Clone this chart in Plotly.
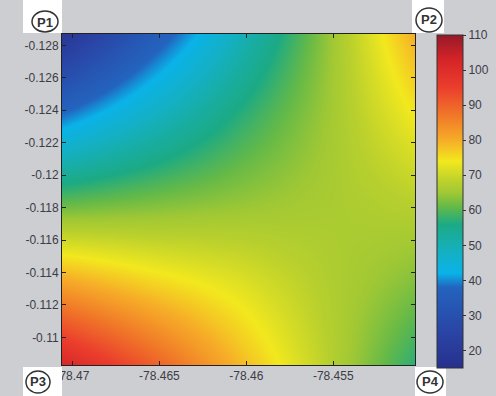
import plotly.graph_objects as go

# grid coordinates (longitude, latitude) of read-off samples
lon = [-78.4706, -78.46553, -78.46045, -78.45538, -78.4503]
lat = [-0.1287, -0.1236, -0.1185, -0.1134, -0.1083]

# values (rows top -> bottom, cols left -> right)
z = [
    [18, 34, 49, 64, 80],
    [39, 48, 57, 65, 74],
    [60, 62, 64, 66, 68],
    [81, 76, 72, 67, 63],
    [102, 91, 79, 68, 57],
]

x_ticks = [-78.47, -78.465, -78.46, -78.455]
x_text = ["-78.47", "-78.465", "-78.46", "-78.455"]
y_ticks = [-0.128, -0.126, -0.124, -0.122, -0.12, -0.118, -0.116, -0.114, -0.112, -0.11]
y_text = ["-0.128", "-0.126", "-0.124", "-0.122", "-0.12", "-0.118", "-0.116", "-0.114", "-0.112", "-0.11"]
cb_ticks = [20, 30, 40, 50, 60, 70, 80, 90, 100, 110]
corner_labels = ["P1", "P2", "P3", "P4"]

zmin, zmax = 15, 110

def n(v):
    return (v - zmin) / (zmax - zmin)

colorscale = [
    [n(15), "rgb(40,48,140)"],
    [n(25), "rgb(42,68,165)"],
    [n(38), "rgb(35,100,190)"],
    [n(42), "rgb(10,178,232)"],
    [n(48), "rgb(20,176,195)"],
    [n(56), "rgb(28,170,132)"],
    [n(61), "rgb(100,185,72)"],
    [n(65), "rgb(160,200,52)"],
    [n(68), "rgb(185,208,45)"],
    [n(74), "rgb(242,232,30)"],
    [n(80), "rgb(246,172,40)"],
    [n(87), "rgb(240,120,40)"],
    [n(95), "rgb(235,62,45)"],
    [n(103), "rgb(212,36,40)"],
    [n(110), "rgb(150,25,40)"],
]

W, H = 496, 396
L, R, T, B = 62, 81, 34, 31
pw, ph = W - L - R, H - T - B

def px(x):
    return (x - L) / pw

def py(y):
    return 1 - (y - T) / ph

fig = go.Figure(go.Heatmap(
    x=lon, y=lat, z=z, zsmooth="best",
    zmin=zmin, zmax=zmax, colorscale=colorscale,
    colorbar=dict(
        x=px(437), xanchor="left", xref="paper", xpad=0, ypad=0,
        y=py(201.5), yanchor="middle", yref="paper",
        len=333 / ph, lenmode="fraction",
        thickness=26, thicknessmode="pixels",
        outlinewidth=1, outlinecolor="#333",
        tickvals=cb_ticks, ticks="outside", ticklen=3,
        tickcolor="#333",
        tickfont=dict(family="Liberation Sans", size=12, color="#3c3c46"),
    ),
    hoverinfo="skip",
))

axis_common = dict(
    showgrid=False, zeroline=False, showline=True, linecolor="#222",
    linewidth=1, mirror="ticks", ticks="inside", ticklen=4, tickcolor="#222",
    tickfont=dict(family="Liberation Sans", size=12, color="#3c3c46"),
    automargin=False,
)

fig.update_xaxes(range=[lon[0], lon[-1]], tickvals=x_ticks, ticktext=x_text, **axis_common)
fig.update_yaxes(range=[lat[-1], lat[0]], tickvals=y_ticks, ticktext=y_text, **axis_common)

shapes = []
annotations = []
boxes = [
    ((23, 0, 62, 33), (32, 11, 58, 32), (45, 22)),
    ((412, 0, 444, 33), (416, 8, 442, 32), (429, 20)),
    ((23, 367, 62, 396), (26, 371, 50, 393), (38, 382)),
    ((415, 367, 446, 396), (417, 371, 443, 393), (430, 382)),
]
for lab, (bx, cx, tc) in zip(corner_labels, boxes):
    shapes.append(dict(type="rect", xref="paper", yref="paper",
                       x0=px(bx[0]), x1=px(bx[2]), y0=py(bx[3]), y1=py(bx[1]),
                       fillcolor="white", line=dict(width=0), layer="above"))
    shapes.append(dict(type="circle", xref="paper", yref="paper",
                       x0=px(cx[0]), x1=px(cx[2]), y0=py(cx[3]), y1=py(cx[1]),
                       fillcolor="rgba(0,0,0,0)", line=dict(color="#333", width=1.5),
                       layer="above"))
    annotations.append(dict(xref="paper", yref="paper", x=px(tc[0]), y=py(tc[1]),
                            text="<b>" + lab + "</b>", showarrow=False,
                            xanchor="center", yanchor="middle",
                            font=dict(family="Liberation Sans", size=13, color="#333")))

fig.update_layout(
    width=W, height=H,
    margin=dict(l=L, r=R, t=T, b=B, autoexpand=False),
    paper_bgcolor="#cdced2", plot_bgcolor="#cdced2",
    shapes=shapes, annotations=annotations,
    showlegend=False,
)

fig.write_html("out.html", post_script="document.body.style.margin='0';",
               config={"displayModeBar": False})
